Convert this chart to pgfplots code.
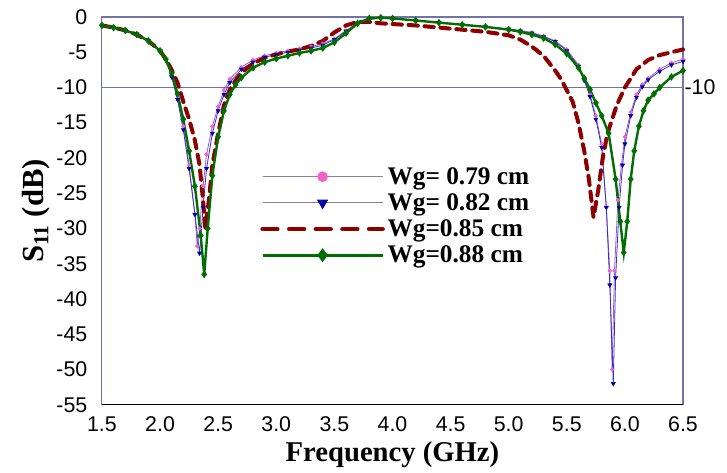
\documentclass[border=0pt]{standalone}
\usepackage{fontspec}
\setmainfont{Liberation Serif}
\newfontfamily\arialf{Liberation Sans}
\usepackage{pgfplots}
\pgfplotsset{compat=1.18}

\definecolor{pinkln}{RGB}{165,85,200}
\definecolor{pinkmk}{RGB}{240,100,200}
\definecolor{blueln}{RGB}{50,50,200}
\definecolor{bluemk}{RGB}{0,0,170}
\definecolor{redln}{RGB}{140,0,0}
\definecolor{grnln}{RGB}{0,110,0}
\definecolor{frame}{RGB}{115,115,170}
\definecolor{legln}{RGB}{140,130,160}

\pgfplotstableread{
f s
1.5 -1.2
1.6 -1.5
1.7 -1.9
1.8 -2.4
1.9 -3.3
2.0 -4.7
2.05 -6.0
2.1 -8.3
2.15 -11.5
2.2 -15.5
2.25 -21
2.3 -28
2.32 -32.5
2.34 -30
2.37 -24
2.4 -19.5
2.45 -15.5
2.5 -12.7
2.55 -10.4
2.6 -8.8
2.7 -7.1
2.8 -6.1
2.9 -5.5
3.0 -5.1
3.1 -4.8
3.2 -4.5
3.3 -4.2
3.4 -3.8
3.5 -3.1
3.6 -1.9
3.7 -0.9
3.8 -0.3
3.9 -0.15
4.0 -0.2
4.2 -0.5
4.4 -0.8
4.6 -1.1
4.8 -1.4
5.0 -1.7
5.1 -1.9
5.2 -2.2
5.3 -2.7
5.4 -3.4
5.5 -4.6
5.6 -6.8
5.65 -8.8
5.7 -11
5.75 -14
5.8 -18
5.84 -27
5.87 -36
5.89 -50
5.91 -36
5.94 -26
5.97 -21
6.0 -17
6.05 -13.5
6.1 -11
6.15 -9.6
6.2 -8.7
6.3 -7.4
6.4 -6.5
6.5 -6.0
}\wga

\pgfplotstableread{
f s
1.5 -1.2
1.6 -1.5
1.7 -1.9
1.8 -2.4
1.9 -3.3
2.0 -4.8
2.05 -6.1
2.1 -8.5
2.15 -11.7
2.2 -16
2.25 -21.5
2.3 -28
2.34 -33.5
2.37 -27
2.4 -21.5
2.45 -16.5
2.5 -13.3
2.55 -11
2.6 -9.3
2.7 -7.4
2.8 -6.4
2.9 -5.7
3.0 -5.3
3.1 -5.0
3.2 -4.7
3.3 -4.4
3.4 -4.0
3.5 -3.2
3.6 -2.0
3.7 -1.0
3.8 -0.35
3.9 -0.15
4.0 -0.2
4.2 -0.5
4.4 -0.8
4.6 -1.1
4.8 -1.4
5.0 -1.7
5.1 -2.0
5.2 -2.3
5.3 -2.8
5.4 -3.5
5.5 -4.8
5.6 -7.0
5.65 -9.0
5.7 -11.3
5.75 -14.5
5.8 -18.5
5.84 -27
5.87 -38
5.9 -52
5.92 -37
5.95 -27
5.98 -21
6.0 -18
6.05 -14
6.1 -11.4
6.15 -9.9
6.2 -8.9
6.3 -7.7
6.4 -6.8
6.5 -6.3
}\wgb

\pgfplotstableread{
f s
1.5 -1.2
1.6 -1.5
1.7 -1.9
1.8 -2.5
1.9 -3.4
2.0 -4.8
2.05 -6.0
2.1 -7.5
2.15 -9.3
2.2 -12
2.25 -14.5
2.3 -17.5
2.34 -21
2.37 -26
2.39 -30
2.42 -26
2.45 -21
2.5 -16.5
2.55 -12.5
2.6 -10.3
2.65 -9.0
2.7 -7.9
2.8 -6.6
2.9 -5.8
3.0 -5.3
3.1 -4.9
3.2 -4.6
3.3 -4.1
3.4 -3.4
3.5 -2.2
3.6 -1.2
3.7 -0.7
3.8 -0.7
3.9 -0.9
4.0 -1.0
4.2 -1.2
4.4 -1.5
4.6 -1.8
4.8 -2.1
5.0 -2.6
5.1 -3.2
5.2 -4.2
5.3 -5.5
5.4 -7.6
5.45 -8.8
5.5 -10.4
5.55 -12
5.6 -15
5.65 -19
5.69 -23
5.73 -28.4
5.77 -24.6
5.81 -19.9
5.85 -16.5
5.88 -15
5.93 -12.5
6.0 -10
6.1 -7.4
6.2 -6.1
6.3 -5.4
6.4 -5.0
6.5 -4.6
}\wgc

\pgfplotstableread{
f s
1.5 -1.2
1.6 -1.5
1.7 -1.9
1.8 -2.5
1.9 -3.4
2.0 -4.8
2.05 -6.0
2.1 -8.0
2.15 -10.9
2.2 -14.5
2.25 -19
2.3 -24
2.35 -31
2.38 -36.5
2.41 -30
2.45 -22.5
2.5 -17
2.55 -13.3
2.6 -11
2.65 -9.6
2.7 -8.6
2.8 -7.2
2.9 -6.4
3.0 -5.9
3.1 -5.5
3.2 -5.1
3.3 -4.8
3.4 -4.4
3.5 -3.6
3.6 -2.3
3.7 -0.9
3.8 -0.2
3.9 -0.1
4.0 -0.2
4.2 -0.5
4.4 -0.8
4.6 -1.1
4.8 -1.4
5.0 -1.8
5.1 -2.1
5.2 -2.5
5.3 -3.0
5.4 -3.9
5.5 -5.2
5.6 -7.2
5.65 -8.7
5.7 -10.3
5.75 -12.2
5.8 -14.0
5.86 -16.5
5.92 -23
5.96 -29
5.99 -33.4
6.02 -29
6.05 -23
6.08 -19
6.12 -15.5
6.16 -13.3
6.2 -11.8
6.25 -10.9
6.3 -10
6.4 -8.5
6.5 -7.6
}\wgd

\begin{document}
\begin{tikzpicture}
\begin{axis}[
    scale only axis,
    width=436pt,
    height=291pt,
    xmin=1.5, xmax=6.5,
    ymin=-55, ymax=0,
    xtick={1.5,2.0,...,6.5},
    ytick={-55,-50,...,0},
    major tick length=0pt,
    axis line style={draw=frame, line width=0.8pt},
    /pgf/number format/assume math mode=true,
    tick label style={font=\arialf\fontsize{16}{19}\selectfont, text=black},
    xticklabel style={yshift=-5.5pt},
    yticklabel style={xshift=-7.5pt},
    x tick label style={/pgf/number format/fixed, /pgf/number format/fixed zerofill,
        /pgf/number format/precision=1},
    xlabel={\textbf{Frequency (GHz)}},
    ylabel={\textbf{S\textsubscript{11} (dB)}},
    xlabel style={font=\fontsize{21.5}{24}\selectfont, at={(rel axis cs:0.5,0)},
        anchor=center, yshift=-37.5pt},
    ylabel style={font=\fontsize{23}{26}\selectfont, at={(rel axis cs:0,0.5)},
        anchor=center, xshift=0pt, yshift=49.5pt},
    clip=false,
    legend style={at={(0.272,0.62)}, anchor=north west, draw=none, fill=none,
        font=\bfseries\fontsize{19}{21}\selectfont, row sep=1.5pt,
        cells={anchor=west}, inner sep=0pt},
    legend image code/.code={
        \draw[mark repeat=2, mark phase=2] plot coordinates {(0pt,0pt) (45pt,0pt) (90pt,0pt)};
    },
]
\draw[draw=frame, line width=0.7pt] (axis cs:1.5,-10) -- (axis cs:6.5,-10);
\addplot[pinkln, line width=0.6pt, mark=*, mark size=1.3pt,
    mark options={draw=pinkmk, fill=pinkmk},
    legend image post style={legln, line width=0.7pt, mark size=3.6pt}] table[x=f, y=s] {\wga};
\addlegendentry{Wg= 0.79 cm}
\addplot[blueln, line width=0.6pt, mark=triangle*, mark size=1.6pt,
    mark options={draw=bluemk, fill=bluemk, rotate=180},
    legend image post style={legln, line width=0.7pt, mark size=4.2pt}] table[x=f, y=s] {\wgb};
\addlegendentry{Wg= 0.82 cm}
\addplot[redln, line width=3pt, dash pattern=on 7pt off 5pt, line cap=round,
    legend image post style={dash pattern=on 11pt off 9pt, line width=3.5pt}] table[x=f, y=s] {\wgc};
\addlegendentry{Wg=0.85 cm}
\addplot[grnln, line width=1.8pt, mark=diamond*, mark size=1.4pt,
    mark options={draw=grnln, fill=grnln, solid},
    legend image post style={line width=2pt, mark size=3.6pt}] table[x=f, y=s] {\wgd};
\addlegendentry{Wg=0.88 cm}
\draw[black, line width=0.9pt] (rel axis cs:0,0) -- (rel axis cs:1,0);
\node[anchor=west, inner sep=1pt, font=\arialf\fontsize{16}{19}\selectfont] at (axis cs:6.5,-10) {-10};
\end{axis}
\path (current axis.south west) ++(-76.5pt,-47pt);
\path (current axis.north east) ++(33pt,12.75pt);
\end{tikzpicture}
\end{document}
